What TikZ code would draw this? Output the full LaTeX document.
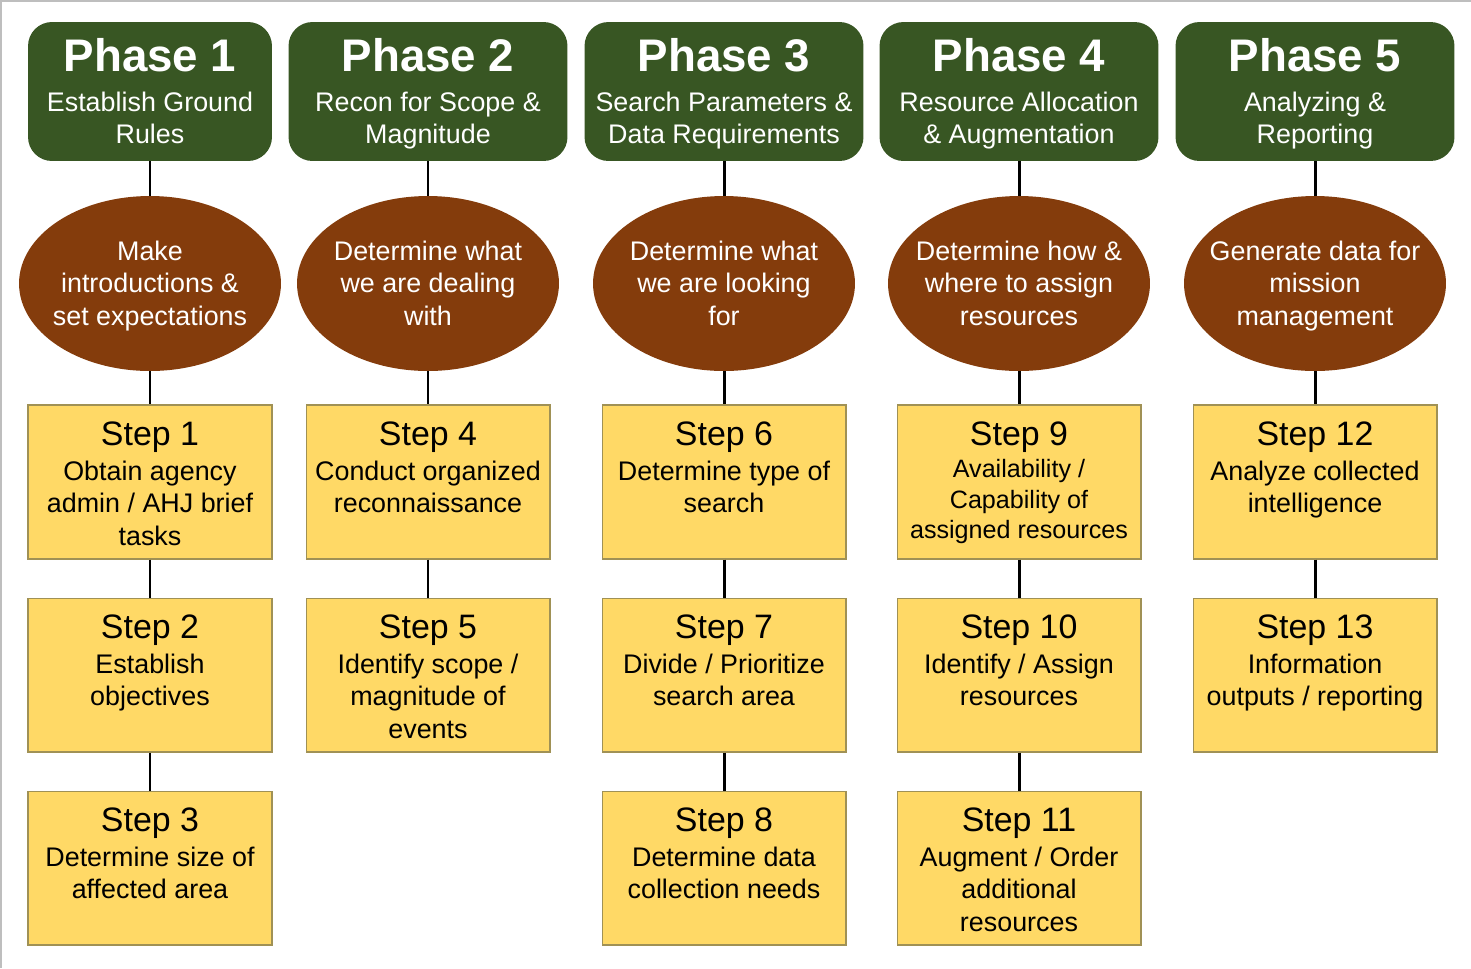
\documentclass[tikz,border=0pt]{standalone}
\usepackage{fontspec}
\setmainfont{Liberation Sans}
\usepackage{tikz}
\usepackage{xcolor}
\usetikzlibrary{shapes.geometric}

\definecolor{phasegreen}{RGB}{56,86,35}
\definecolor{goalbrown}{RGB}{132,60,12}
\definecolor{stepyellow}{RGB}{255,217,102}
\definecolor{stepedge}{RGB}{160,145,85}
\definecolor{pageedge}{RGB}{190,190,190}

\tikzset{
  phasebox/.style={fill=phasegreen, rounded corners=0.48cm, minimum width=5.58cm, minimum height=2.78cm, inner sep=0pt},
  phasetitle/.style={text=white, font=\bfseries\fontsize{26}{30}\selectfont, anchor=base, inner sep=0pt},
  phasetext/.style={text=white, font=\fontsize{15.3}{18.2}\selectfont, align=center, anchor=north, inner sep=0pt},
  goal/.style={ellipse, fill=goalbrown, minimum width=5.24cm, minimum height=3.5cm, inner sep=0pt},
  goaltext/.style={text=white, font=\fontsize{15.3}{18.5}\selectfont, align=center, anchor=north, inner sep=0pt},
  stepbox/.style={draw=stepedge, line width=0.6pt, fill=stepyellow, minimum width=4.88cm, minimum height=3.08cm, inner sep=0pt},
  steptitle/.style={font=\fontsize{19.3}{23}\selectfont, anchor=base, inner sep=0pt},
  steptext/.style={font=\fontsize{15.3}{18.5}\selectfont, align=center, anchor=north, inner sep=0pt},
  link/.style={line width=1.7pt}
}

\begin{document}
\begin{tikzpicture}[x=0.02cm, y=-0.02cm]
\useasboundingbox (0,0) rectangle (1471,968);
\draw[pageedge, line width=1.2pt] (1,968) -- (1,0.6) -- (1471,0.6);

% phases
\node[phasebox, minimum width=4.88cm] (p1) at (150,91.5) {};
\node[phasetitle] (p1t) at (150,71.4) {Phase 1};
\node[phasetext] (p1b) at (150,91.4) {Establish Ground\\Rules};

\node[phasebox] (p2) at (428,91.5) {};
\node[phasetitle] (p2t) at (428,71.4) {Phase 2};
\node[phasetext] (p2b) at (428,91.4) {Recon for Scope \&\\Magnitude};

\node[phasebox] (p3) at (724,91.5) {};
\node[phasetitle] (p3t) at (724,71.4) {Phase 3};
\node[phasetext] (p3b) at (724,91.4) {Search Parameters \&\\Data Requirements};

\node[phasebox] (p4) at (1019,91.5) {};
\node[phasetitle] (p4t) at (1019,71.4) {Phase 4};
\node[phasetext] (p4b) at (1019,91.4) {Resource Allocation\\\& Augmentation};

\node[phasebox] (p5) at (1315,91.5) {};
\node[phasetitle] (p5t) at (1315,71.4) {Phase 5};
\node[phasetext] (p5b) at (1315,91.4) {Analyzing \&\\Reporting};

% goals
\node[goal] (g1) at (150,283.5) {};
\node[goaltext] (g1t) at (150,240.4) {Make\\introductions \&\\set expectations};

\node[goal] (g2) at (428,283.5) {};
\node[goaltext] (g2t) at (428,240.4) {Determine what\\we are dealing\\with};

\node[goal] (g3) at (724,283.5) {};
\node[goaltext] (g3t) at (724,240.4) {Determine what\\we are looking\\for};

\node[goal] (g4) at (1019,283.5) {};
\node[goaltext] (g4t) at (1019,240.4) {Determine how \&\\where to assign\\resources};

\node[goal] (g5) at (1315,283.5) {};
\node[goaltext] (g5t) at (1315,240.4) {Generate data for\\mission\\management};

% steps
\node[stepbox] (s1) at (150,482) {};
\node[steptitle] (s1t) at (150,445.1) {Step 1};
\node[steptext] (s1b) at (150,460.4) {Obtain agency\\admin / AHJ brief\\tasks};

\node[stepbox] (s2) at (150,675) {};
\node[steptitle] (s2t) at (150,638.1) {Step 2};
\node[steptext] (s2b) at (150,653.4) {Establish\\objectives};

\node[stepbox] (s3) at (150,868) {};
\node[steptitle] (s3t) at (150,831.1) {Step 3};
\node[steptext] (s3b) at (150,846.4) {Determine size of\\affected area};

\node[stepbox] (s4) at (428,482) {};
\node[steptitle] (s4t) at (428,445.1) {Step 4};
\node[steptext] (s4b) at (428,460.4) {Conduct organized\\reconnaissance};

\node[stepbox] (s5) at (428,675) {};
\node[steptitle] (s5t) at (428,638.1) {Step 5};
\node[steptext] (s5b) at (428,653.4) {Identify scope /\\magnitude of\\events};

\node[stepbox] (s6) at (724,482) {};
\node[steptitle] (s6t) at (724,445.1) {Step 6};
\node[steptext] (s6b) at (724,460.4) {Determine type of\\search};

\node[stepbox] (s7) at (724,675) {};
\node[steptitle] (s7t) at (724,638.1) {Step 7};
\node[steptext] (s7b) at (724,653.4) {Divide / Prioritize\\search area};

\node[stepbox] (s8) at (724,868) {};
\node[steptitle] (s8t) at (724,831.1) {Step 8};
\node[steptext] (s8b) at (724,846.4) {Determine data\\collection needs};

\node[stepbox] (s9) at (1019,482) {};
\node[steptitle] (s9t) at (1019,445.1) {Step 9};
\node[steptext, font=\fontsize{14.3}{17.4}\selectfont] (s9b) at (1019,459) {Availability /\\Capability of\\assigned resources};

\node[stepbox] (s10) at (1019,675) {};
\node[steptitle] (s10t) at (1019,638.1) {Step 10};
\node[steptext] (s10b) at (1019,653.4) {Identify / Assign\\resources};

\node[stepbox] (s11) at (1019,868) {};
\node[steptitle] (s11t) at (1019,831.1) {Step 11};
\node[steptext] (s11b) at (1019,846.4) {Augment / Order\\additional\\resources};

\node[stepbox] (s12) at (1315,482) {};
\node[steptitle] (s12t) at (1315,445.1) {Step 12};
\node[steptext] (s12b) at (1315,460.4) {Analyze collected\\intelligence};

\node[stepbox] (s13) at (1315,675) {};
\node[steptitle] (s13t) at (1315,638.1) {Step 13};
\node[steptext] (s13b) at (1315,653.4) {Information\\outputs / reporting};

% links
\draw[link] (p1) -- (g1);
\draw[link] (g1) -- (s1);
\draw[link] (s1) -- (s2);
\draw[link] (s2) -- (s3);

\draw[link] (p2) -- (g2);
\draw[link] (g2) -- (s4);
\draw[link] (s4) -- (s5);

\draw[link] (p3) -- (g3);
\draw[link] (g3) -- (s6);
\draw[link] (s6) -- (s7);
\draw[link] (s7) -- (s8);

\draw[link] (p4) -- (g4);
\draw[link] (g4) -- (s9);
\draw[link] (s9) -- (s10);
\draw[link] (s10) -- (s11);

\draw[link] (p5) -- (g5);
\draw[link] (g5) -- (s12);
\draw[link] (s12) -- (s13);

\end{tikzpicture}
\end{document}
